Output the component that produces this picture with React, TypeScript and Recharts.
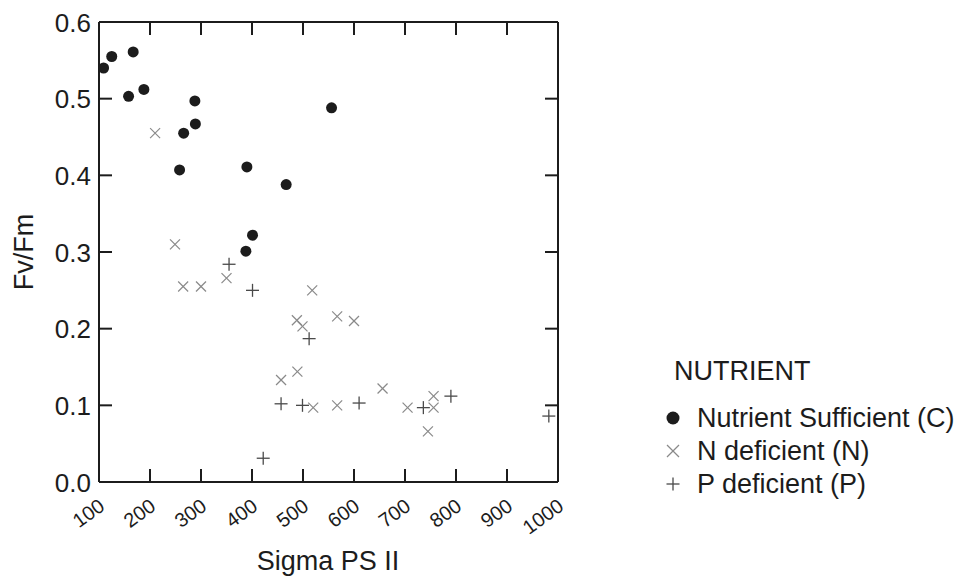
import { Scatter, ScatterChart, XAxis, YAxis } from "recharts";

const sufficientX = [109, 125, 167, 158, 188, 288, 289, 266, 258, 390, 467, 401, 388, 556];
const sufficientY = [0.54, 0.555, 0.561, 0.503, 0.512, 0.497, 0.467, 0.455, 0.407, 0.411, 0.388, 0.322, 0.301, 0.488];

const nDeficientX = [210, 249, 265, 300, 350, 457, 488, 499, 518, 567, 600, 489, 520, 567, 656, 705, 756, 756, 745];
const nDeficientY = [0.455, 0.31, 0.255, 0.255, 0.266, 0.133, 0.211, 0.203, 0.25, 0.216, 0.21, 0.144, 0.097, 0.1, 0.122, 0.097, 0.112, 0.097, 0.066];

const pDeficientX = [355, 401, 457, 422, 499, 512, 610, 736, 790, 982];
const pDeficientY = [0.284, 0.25, 0.102, 0.031, 0.1, 0.187, 0.103, 0.097, 0.112, 0.086];

const xTicks = [100, 200, 300, 400, 500, 600, 700, 800, 900, 1000];
const yTicks = [0, 0.1, 0.2, 0.3, 0.4, 0.5, 0.6];

const legendTitle = "NUTRIENT";
const legendLabels = ["Nutrient Sufficient (C)", "N deficient (N)", "P deficient (P)"];

const toPoints = (xs: number[], ys: number[]) => xs.map((x, i) => ({ x, y: ys[i] }));

const FONT = "'Liberation Sans', Arial, sans-serif";
const INK = "#1c1c1c";

const Dot = ({ cx, cy, r = 5.5 }: any) => <circle cx={cx} cy={cy} r={r} fill={INK} />;

const Cross = ({ cx, cy, s = 5 }: any) => (
  <g stroke="#8a8a8a" strokeWidth={1.2}>
    <line x1={cx - s} y1={cy - s} x2={cx + s} y2={cy + s} />
    <line x1={cx - s} y1={cy + s} x2={cx + s} y2={cy - s} />
  </g>
);

const Plus = ({ cx, cy, s = 6.5 }: any) => (
  <g stroke="#4a4a4a" strokeWidth={1.3}>
    <line x1={cx - s} y1={cy} x2={cx + s} y2={cy} />
    <line x1={cx} y1={cy - s} x2={cx} y2={cy + s} />
  </g>
);

// tick labels only; the marks come from tickLine, pointing inward (negative tickSize)
const BottomTick = ({ x, y, payload }: any) => (
  <text
    x={x + 7}
    y={y + 27}
    textAnchor="end"
    fontSize={20}
    fontFamily={FONT}
    fill={INK}
    transform={`rotate(-36, ${x + 7}, ${y + 27})`}
  >
    {payload.value}
  </text>
);

const LeftTick = ({ x, y, payload }: any) => (
  <text x={x - 8} y={y + 9.5} textAnchor="end" fontSize={26} fontFamily={FONT} fill={INK}>
    {Number(payload.value).toFixed(1)}
  </text>
);

const NoLabel = () => <g />;

const axisBase = {
  type: "number" as const,
  stroke: INK,
  strokeWidth: 2,
  tickSize: -13,
  tickMargin: 13,
  allowDataOverflow: true,
};

// the page has an 8px body margin, so everything below is drawn 8px up and left
export default function App() {
  return (
    <div style={{ position: "relative", width: 955, height: 568 }}>
      <ScatterChart width={955} height={568} margin={{ top: 13, right: 404, bottom: 0, left: 0 }}>
        <XAxis {...axisBase} xAxisId="b" dataKey="x" domain={[100, 1000]} ticks={xTicks} height={94} tick={<BottomTick />} />
        <XAxis {...axisBase} xAxisId="t" orientation="top" dataKey="x" domain={[100, 1000]} ticks={xTicks} height={1} tick={<NoLabel />} />
        <YAxis {...axisBase} yAxisId="l" dataKey="y" domain={[0, 0.6]} ticks={yTicks} width={91} tick={<LeftTick />} />
        <YAxis {...axisBase} yAxisId="r" orientation="right" dataKey="y" domain={[0, 0.6]} ticks={yTicks} width={1} tick={<NoLabel />} />
        <Scatter xAxisId="t" yAxisId="r" data={toPoints(sufficientX, sufficientY)} shape={() => <g />} isAnimationActive={false} />
        <Scatter
          xAxisId="b"
          yAxisId="l"
          data={toPoints(nDeficientX, nDeficientY)}
          shape={(p: any) => <Cross cx={p.cx} cy={p.cy} />}
          isAnimationActive={false}
        />
        <Scatter
          xAxisId="b"
          yAxisId="l"
          data={toPoints(pDeficientX, pDeficientY)}
          shape={(p: any) => <Plus cx={p.cx} cy={p.cy} />}
          isAnimationActive={false}
        />
        <Scatter
          xAxisId="b"
          yAxisId="l"
          data={toPoints(sufficientX, sufficientY)}
          shape={(p: any) => <Dot cx={p.cx} cy={p.cy} />}
          isAnimationActive={false}
        />
      </ScatterChart>
      <svg width={955} height={568} style={{ position: "absolute", left: 0, top: 0, pointerEvents: "none" }}>
        <text x={320} y={562} textAnchor="middle" fontSize={27} fontFamily={FONT} fill={INK}>
          Sigma PS II
        </text>
        <text
          x={25}
          y={244}
          textAnchor="middle"
          fontSize={27}
          fontFamily={FONT}
          fill={INK}
          transform="rotate(-90, 25, 244)"
        >
          Fv/Fm
        </text>
        <text x={666} y={372} fontSize={27} fontFamily={FONT} fill={INK}>
          {legendTitle}
        </text>
        <Dot cx={665} cy={410} r={6.5} />
        <Cross cx={665} cy={443} s={6} />
        <Plus cx={665} cy={476} s={6.5} />
        {legendLabels.map((label, i) => (
          <text key={label} x={689} y={419 + i * 33} fontSize={27} fontFamily={FONT} fill={INK}>
            {label}
          </text>
        ))}
      </svg>
    </div>
  );
}
